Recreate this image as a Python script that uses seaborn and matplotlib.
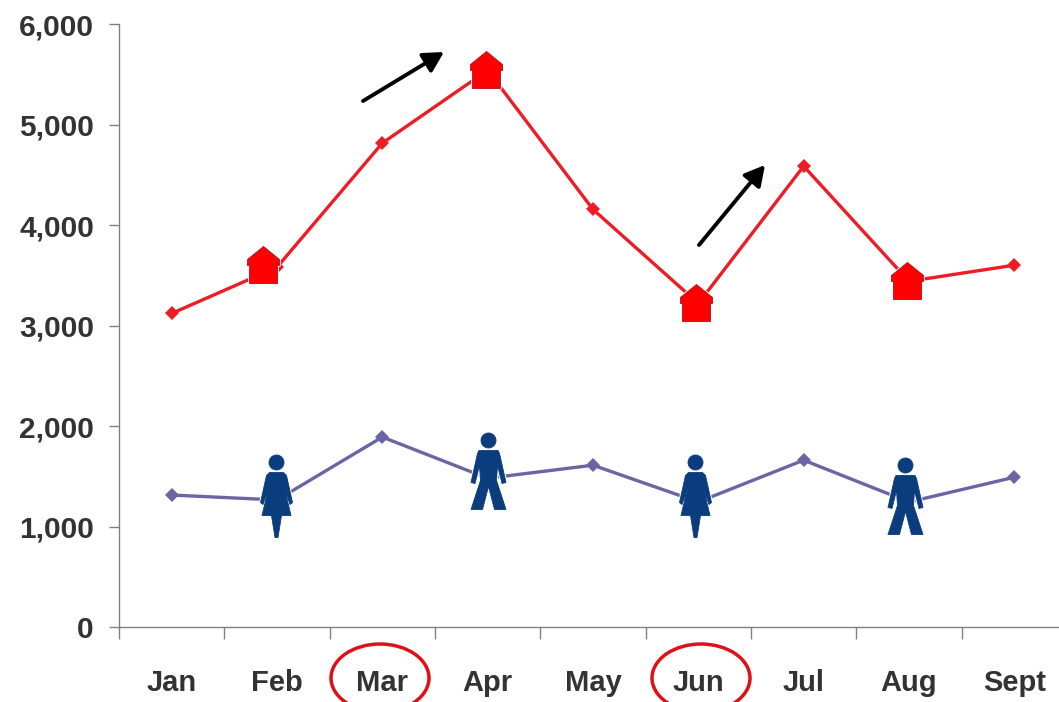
# plot.py
# Monthly red / blue series with house and figure icons

import pandas as pd
import seaborn as sns
import matplotlib.pyplot as plt
from matplotlib.path import Path
from matplotlib.patches import Ellipse
from matplotlib.ticker import FixedLocator, FuncFormatter
from matplotlib.transforms import IdentityTransform

# ===============================
# Data
# ===============================
months = ["Jan", "Feb", "Mar", "Apr", "May", "Jun", "Jul", "Aug", "Sept"]
red_values = [3120, 3580, 4815, 5540, 4155, 3220, 4585, 3440, 3600]
blue_values = [1313, 1264, 1890, 1480, 1610, 1244, 1660, 1244, 1490]
house_months = ["Feb", "Apr", "Jun", "Aug"]
woman_months = ["Feb", "Jun"]
man_months = ["Apr", "Aug"]
circled_months = ["Mar", "Jun"]
y_ticks = [0, 1000, 2000, 3000, 4000, 5000, 6000]

red_df = pd.DataFrame({"month": months, "value": red_values})
blue_df = pd.DataFrame({"month": months, "value": blue_values})

RED = "#EE1C25"
BLUE = "#6A66A3"
NAVY = "#0B3C7D"
TEXT = "#333333"
GREY = "#808080"

W, H = 1059, 702

# icons do not sit exactly on their points in the original (pixels, y up)
house_shift = {"Feb": (-14, 2), "Apr": (-2, 0), "Jun": (-2, 0), "Aug": (-2, 0)}
woman_shift = {"Feb": (-1, 0), "Jun": (-3, 2)}
man_shift = {"Aug": (-4, -1)}


# ===============================
# Icon shapes (pixel sized, centred on the point)
# ===============================
def polygon(points):
    return Path(points + [points[0]], closed=True)


def head(cy, r=7.5):
    circle = Path.unit_circle()
    return Path(circle.vertices * r + [0, cy], circle.codes)


house_icon = polygon([(0, 19), (16, 6), (16, 0), (14, 0), (14, -18), (-14, -18), (-14, 0), (-16, 0), (-16, 6)])

woman_icon = Path.make_compound_path(
    head(38),
    polygon([(-7, 28), (7, 28), (10, 25), (16, -2), (13.5, -4), (8, 12), (14.5, -15), (5, -15), (1.5, -37),
             (-1.5, -37), (-5, -15), (-14.5, -15), (-8, 12), (-13.5, -4), (-16, -2), (-10, 25)]),
)

man_icon = Path.make_compound_path(
    head(38),
    polygon([(-9.5, 28), (9.5, 28), (11, 25), (17.5, -4), (13.5, -5), (9, 13), (8, -2), (17.5, -31), (6, -31),
             (0, -8), (-6, -31), (-17.5, -31), (-8, -2), (-9, 13), (-13.5, -5), (-17.5, -4), (-11, 25)]),
)


def icon_size(path):
    # scatter rescales a custom marker so its largest coordinate is half the marker size
    return (2 * abs(path.vertices).max() * 72 / 100) ** 2


# ===============================
# Figure
# ===============================
sns.set_theme(style="white")
plt.rcParams["font.family"] = ["Liberation Sans", "DejaVu Sans"]

fig = plt.figure(figsize=(W / 100, H / 100), dpi=100)
ax = fig.add_axes([119 / W, (H - 627) / H, 948 / W, 603 / H])

sns.lineplot(data=red_df, x="month", y="value", sort=False, color=RED, linewidth=2.4,
             marker="D", markersize=7.5, markeredgewidth=0, ax=ax)
sns.lineplot(data=blue_df, x="month", y="value", sort=False, color=BLUE, linewidth=2.4,
             marker="D", markersize=7.5, markeredgewidth=0, ax=ax)


def draw_icons(df, names, icon, face, edge, shifts):
    for name in names:
        dx, dy = shifts.get(name, (0, 0))
        shifted = Path(icon.vertices + [dx, dy], icon.codes)
        subset = df[df["month"] == name]
        # thin white halo keeps the line from touching the icon
        sns.scatterplot(data=subset, x="month", y="value", marker=shifted, s=icon_size(shifted), color="white",
                        edgecolor="white", linewidth=2, ax=ax, zorder=4)
        sns.scatterplot(data=subset, x="month", y="value", marker=shifted, s=icon_size(shifted), color=face,
                        edgecolor=edge, linewidth=0.6, ax=ax, zorder=5)


draw_icons(red_df, house_months, house_icon, "#FF0000", "#B01015", house_shift)
draw_icons(blue_df, woman_months, woman_icon, NAVY, NAVY, woman_shift)
draw_icons(blue_df, man_months, man_icon, NAVY, NAVY, man_shift)

# ===============================
# Axes
# ===============================
ax.set_xlim(-0.5, 8.5)
ax.set_ylim(0, 6000)
ax.set_xlabel("")
ax.set_ylabel("")
ax.set_facecolor("white")

ax.yaxis.set_major_locator(FixedLocator(y_ticks))
ax.yaxis.set_major_formatter(FuncFormatter(lambda v, _: f"{int(v):,}"))
ax.xaxis.set_minor_locator(FixedLocator([i - 0.5 for i in range(len(months) + 1)]))

ax.tick_params(axis="x", which="major", length=0, pad=30, labelsize=21, labelcolor=TEXT)
ax.tick_params(axis="x", which="minor", bottom=True, length=8.5, width=1, color=GREY)
ax.tick_params(axis="y", which="major", left=True, length=7, width=1, color=GREY, pad=11,
               labelsize=21.5, labelcolor=TEXT)
for label in ax.get_xticklabels() + ax.get_yticklabels():
    label.set_fontweight("bold")

sns.despine(ax=ax, top=True, right=True)
ax.spines["left"].set_color(GREY)
ax.spines["bottom"].set_color(GREY)
ax.spines["left"].set_linewidth(1)
ax.spines["bottom"].set_linewidth(1)


# ===============================
# Callouts
# ===============================
def px(x, y):
    return (x, H - y)


for start, end in [((363, 101), (444, 52)), ((699, 245), (765, 165))]:
    ax.annotate("", xy=px(*end), xytext=px(*start), xycoords="figure pixels", textcoords="figure pixels",
                arrowprops=dict(arrowstyle="-|>,head_length=0.55,head_width=0.3", color="black", lw=2.8,
                                mutation_scale=22, shrinkA=0, shrinkB=0), zorder=6)

for name, centre_x in zip(circled_months, [380, 701]):
    fig.add_artist(Ellipse(px(centre_x, 678), 98, 68, fill=False, edgecolor="#E01018", linewidth=2.5,
                           transform=IdentityTransform()))

fig.savefig("out.png", dpi=100, facecolor="white")
